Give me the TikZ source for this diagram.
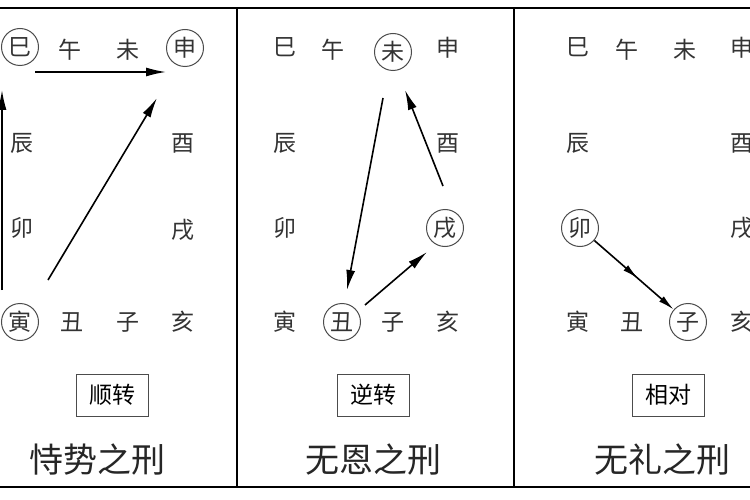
\documentclass[tikz,border=0pt]{standalone}
\usepackage{fontspec}
\newfontfamily\cjk{Noto Sans CJK SC}
\usetikzlibrary{arrows.meta,decorations.markings}
\begin{document}
\begin{tikzpicture}[x=1pt,y=-1pt,
  ch/.style={font=\cjk\fontsize{23}{23}\selectfont,text=black!80,inner sep=0pt,minimum size=37pt,circle},
  cir/.style={ch,draw=black!70,line width=1pt},
  lbl/.style={draw=black!70,line width=1pt,font=\cjk\fontsize{23}{23}\selectfont,inner sep=0pt,minimum width=72pt,minimum height=42pt},
  ttl/.style={font=\cjk\fontsize{34}{34}\selectfont,text=black!85},
  arr/.style={line width=1.6pt,-{Latex[length=20pt,width=9pt]}},
  frame/.style={line width=2.2pt}]
\useasboundingbox (0,0) rectangle (750,500);
\fill[white] (0,0) rectangle (750,500);
\draw[frame] (-5,8) -- (755,8);
\draw[frame] (-5,487) -- (755,487);
\draw[frame] (237,8) -- (237,487);
\draw[frame] (514,8) -- (514,487);
% panel 1
\node[cir] (a1) at (20,47) {巳}; \node[ch] (a2) at (70,50) {午}; \node[ch] (a3) at (128,50) {未}; \node[cir] (a4) at (185,48) {申};
\node[ch] (a5) at (22,143) {辰}; \node[ch] (a6) at (183,143) {酉};
\node[ch] (a7) at (22,228) {卯}; \node[ch] (a8) at (183,230) {戌};
\node[cir] (a9) at (20,322) {寅}; \node[ch] (a10) at (72,322) {丑}; \node[ch] (a11) at (128,322) {子}; \node[ch] (a12) at (183,322) {亥};
\node[lbl] (b1) at (112,395) {顺转};
\node[ttl] (t1) at (97,460) {恃势之刑};
\coordinate (p1) at (2,290); \coordinate (p2) at (2,90);
\draw[arr] (p1) -- (p2);
\coordinate (q2) at (35,72); \coordinate (q3) at (166,72);
\draw[arr] (q2) -- (q3);
\coordinate (r1) at (48,280); \coordinate (r2) at (157,98);
\draw[arr] (r1) -- (r2);
% panel 2
\node[ch] (c1) at (285,47) {巳}; \node[ch] (c2) at (333,50) {午}; \node[cir] (c3) at (393,52) {未}; \node[ch] (c4) at (448,48) {申};
\node[ch] (c5) at (285,143) {辰}; \node[ch] (c6) at (448,143) {酉};
\node[ch] (c7) at (285,228) {卯}; \node[cir] (c8) at (445,228) {戌};
\node[ch] (c9) at (285,322) {寅}; \node[cir] (c10) at (342,322) {丑}; \node[ch] (c11) at (393,322) {子}; \node[ch] (c12) at (448,322) {亥};
\node[lbl] (b2) at (373,395) {逆转};
\node[ttl] (t2) at (373,460) {无恩之刑};
\coordinate (s1) at (383,98); \coordinate (s2) at (347,290);
\draw[arr] (s1) -- (s2);
\coordinate (s3) at (365,305); \coordinate (s4) at (427,252);
\draw[arr] (s3) -- (s4);
\coordinate (s5) at (443,186); \coordinate (s6) at (405,90);
\draw[arr] (s5) -- (s6);
% panel 3
\node[ch] (d1) at (578,47) {巳}; \node[ch] (d2) at (627,50) {午}; \node[ch] (d3) at (685,50) {未}; \node[ch] (d4) at (742,48) {申};
\node[ch] (d5) at (578,143) {辰}; \node[ch] (d6) at (742,143) {酉};
\node[cir] (d7) at (580,228) {卯}; \node[ch] (d8) at (742,228) {戌};
\node[ch] (d9) at (578,322) {寅}; \node[ch] (d10) at (632,322) {丑}; \node[cir] (d11) at (688,322) {子}; \node[ch] (d12) at (742,322) {亥};
\node[lbl] (b3) at (668,395) {相对};
\node[ttl] (t3) at (662,460) {无礼之刑};
\draw[line width=1.6pt,postaction={decorate},decoration={markings,mark=at position 0.55 with {\arrow{Latex[length=16pt,width=7pt]}}},-{Latex[length=16pt,width=7pt]}] (d7) -- (d11);
\end{tikzpicture}
\end{document}
